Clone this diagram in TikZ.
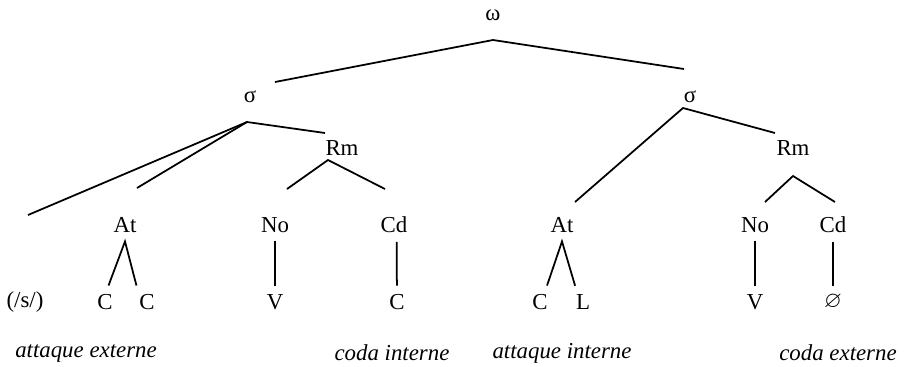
\documentclass[tikz,border=0pt]{standalone}
\usepackage{amssymb}
\usepackage{fontspec}
\setmainfont{Liberation Serif}
\begin{document}
\begin{tikzpicture}[x=0.02cm,y=-0.02cm,
	lab/.style={font=\fontsize{13}{15}\selectfont, inner sep=2pt, outer sep=3pt},
	gloss/.style={font=\fontsize{13}{15}\selectfont\itshape},
	edge/.style={line width=1pt}]
	\useasboundingbox (0,0) rectangle (905,366);
	
	% mot et syllabes
	\node[lab] (om) at (493,15){ω};
	\node[lab] (sigL) at (250,97){σ};
	\node[lab] (sigR) at (690,97){σ};
	
	% rimes
	\node[lab] (rmL) at (342,148){Rm};
	\node[lab] (rmR) at (793,148){Rm};
	
	% constituants
	\node[lab] (atL) at (125,225){At};
	\node[lab] (noL) at (275,225){No};
	\node[lab] (cdL) at (394,225){Cd};
	\node[lab] (atR) at (562,225){At};
	\node[lab] (noR) at (755,225){No};
	\node[lab] (cdR) at (833,225){Cd};
	
	% squelette
	\node[lab] (s) at (25,302){(/s/)};
	\node[lab] (c1) at (105,302){C};
	\node[lab] (c2) at (147,302){C};
	\node[lab] (vL) at (275,302){V};
	\node[lab] (c3) at (397,302){C};
	\node[lab] (c4) at (540,302){C};
	\node[lab] (l) at (583,302){L};
	\node[lab] (vR) at (755,302){V};
	\node[lab] (zero) at (833,302){$\varnothing$};
	
	\node[gloss] (ae) at (86,353){attaque externe};
	\node[gloss] (ci) at (392,353){coda interne};
	\node[gloss] (ai) at (562,353){attaque interne};
	\node[gloss] (ce) at (838,353){coda externe};
	
	% points de branchement
	\coordinate (om-b) at (493,40);
	\coordinate (sigL-t) at (275,82);
	\coordinate (sigR-t) at (684,69);
	\coordinate (sigL-b) at (247,122);
	\coordinate (sigR-b) at (683,108);
	\coordinate (free1) at (28,215);
	\coordinate (free2) at (137,188);
	\coordinate (rmL-t) at (325,133);
	\coordinate (rmR-t) at (775,133);
	\coordinate (rmL-b) at (328,160);
	\coordinate (rmR-b) at (793,176);
	\coordinate (noL-t) at (287,189);
	\coordinate (cdL-t) at (385,189);
	\coordinate (atR-t) at (575,202);
	\coordinate (noR-t) at (765,202);
	\coordinate (cdR-t) at (835,202);
	
	\draw[edge] (sigL-t) -- (om-b) -- (sigR-t);
	
	\draw[edge] (free1) -- (sigL-b) -- (rmL-t);
	\draw[edge] (free2) -- (sigL-b);
	\draw[edge] (noL-t) -- (rmL-b) -- (cdL-t);
	\draw[edge] (atR-t) -- (sigR-b) -- (rmR-t);
	\draw[edge] (noR-t) -- (rmR-b) -- (cdR-t);
	
	\draw[edge] ([xshift=2pt]c1.north) -- (atL.south) -- ([xshift=-6pt]c2.north);
	\draw[edge] ([xshift=4pt]c4.north) -- (atR.south) -- ([xshift=-4.5pt]l.north);
	\draw[edge] (noL) -- (vL);
	\draw[edge] ([xshift=1.5pt]cdL.south) -- (c3);
	\draw[edge] (noR) -- (vR);
	\draw[edge] (cdR) -- (zero);
\end{tikzpicture}
\end{document}
